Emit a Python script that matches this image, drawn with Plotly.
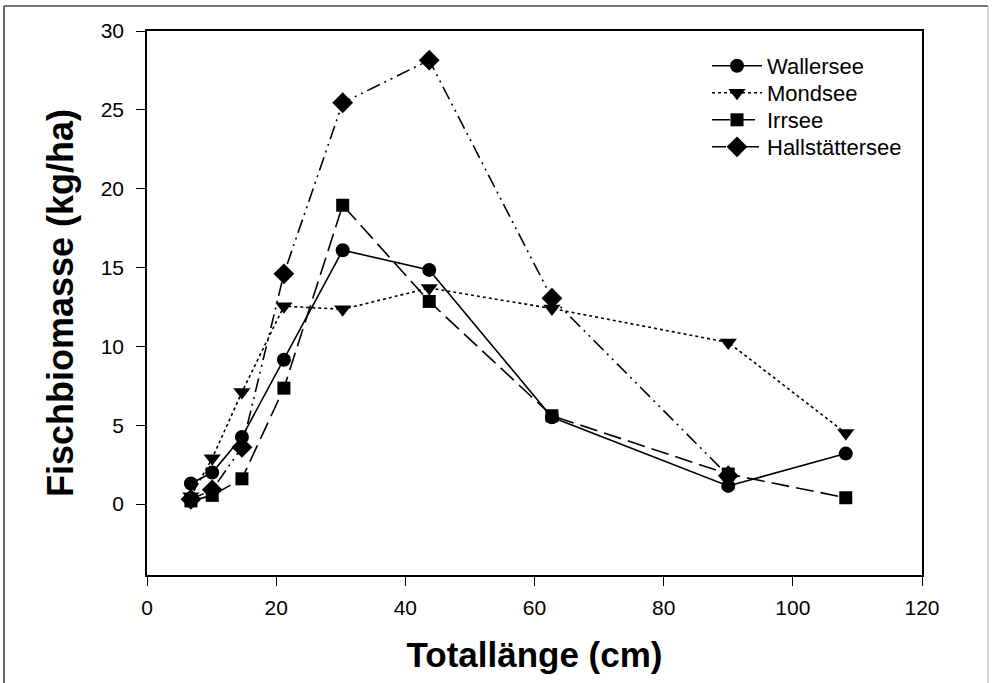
import plotly.graph_objects as go

x_len = [6.8, 10.1, 14.7, 21.2, 30.3, 43.7, 62.7, 90.0, 108.2]
wallersee = [1.3, 2.0, 4.25, 9.15, 16.1, 14.85, 5.5, 1.15, 3.2]
mondsee = [0.5, 2.9, 7.1, 12.55, 12.35, 13.7, 12.4, 10.25, 4.5]
irrsee = [0.2, 0.55, 1.6, 7.35, 18.95, 12.85, 5.6, 1.9, 0.4]
x_hall = [6.8, 10.1, 14.7, 21.2, 30.3, 43.7, 62.7, 90.0]
hallstaettersee = [0.3, 0.9, 3.6, 14.6, 25.45, 28.15, 13.05, 1.8]

x_ticks = [0, 20, 40, 60, 80, 100, 120]
y_ticks = [0, 5, 10, 15, 20, 25, 30]

FONT = "Liberation Sans, Arial, sans-serif"

OFF = 0  # body margin removed below
W, H = 993, 683
ml, mt = 147 - OFF, 31 - OFF
pw, ph = 775, 544
mr = W - ml - pw
mb = H - mt - ph

def px(xp):
    return (xp - OFF - ml) / pw

def py(yp):
    return 1 - (yp - OFF - mt) / ph

fig = go.Figure()
series = [
    ("Wallersee", x_len, wallersee, "solid", "circle", 14, "legend", 66),
    ("Mondsee", x_len, mondsee, "dot", "triangle-down", 15, "legend2", 93),
    ("Irrsee", x_len, irrsee, "18px,7px", "square", 13, "legend3", 120),
    ("Hallstättersee", x_hall, hallstaettersee, "14px,5px,2px,5px,2px,5px", "diamond", 16, "legend4", 147),
]
legends = {}
for name, xs, ys, dash, sym, ms, lg, ly in series:
    fig.add_trace(go.Scatter(
        x=xs, y=ys, name=name, mode="lines+markers", legend=lg,
        line=dict(color="black", width=1.6, dash=dash),
        marker=dict(symbol=sym, size=ms, color="black"),
    ))
    legends[lg] = dict(x=px(707), y=py(ly), xanchor="left", yanchor="middle",
                       bgcolor="rgba(0,0,0,0)", font=dict(size=22, family=FONT),
                       itemwidth=50, borderwidth=0)

fig.update_layout(
    width=W, height=H,
    margin=dict(l=ml, r=mr, t=mt, b=mb),
    paper_bgcolor="white", plot_bgcolor="white",
    font=dict(family=FONT, color="black", size=18),
    showlegend=True,
    xaxis=dict(range=[0, 120], tickvals=x_ticks, ticks="outside", ticklen=9,
               tickcolor="black", showline=True, linecolor="black", linewidth=1.5,
               mirror=True, showgrid=False, zeroline=False, ticklabelstandoff=4,
               tickfont=dict(size=21, family=FONT),
               title=dict(text="<b>Totallänge (cm)</b>", font=dict(size=35, family=FONT), standoff=25)),
    yaxis=dict(range=[-4.5, 30], tickvals=y_ticks, ticks="outside", ticklen=9,
               tickcolor="black", showline=True, linecolor="black", linewidth=1.5,
               mirror=True, showgrid=False, zeroline=False, ticklabelstandoff=8,
               tickfont=dict(size=21, family=FONT),
               title=dict(text="<b>Fischbiomasse (kg/ha)</b>", font=dict(size=36, family=FONT), standoff=16)),
    **legends,
)

# outer frame
fig.add_shape(type="line", xref="paper", yref="paper", x0=px(4), x1=px(4), y0=py(6), y1=py(700),
              line=dict(color="#666666", width=2))
fig.add_shape(type="line", xref="paper", yref="paper", x0=px(4), x1=px(988), y0=py(6), y1=py(6),
              line=dict(color="#444444", width=1.5))
fig.add_shape(type="line", xref="paper", yref="paper", x0=px(988), x1=px(988), y0=py(6), y1=py(700),
              line=dict(color="#aaaaaa", width=1))

fig.write_html("out.html", config={"displayModeBar": False},
               post_script="document.body.style.margin='0';")
